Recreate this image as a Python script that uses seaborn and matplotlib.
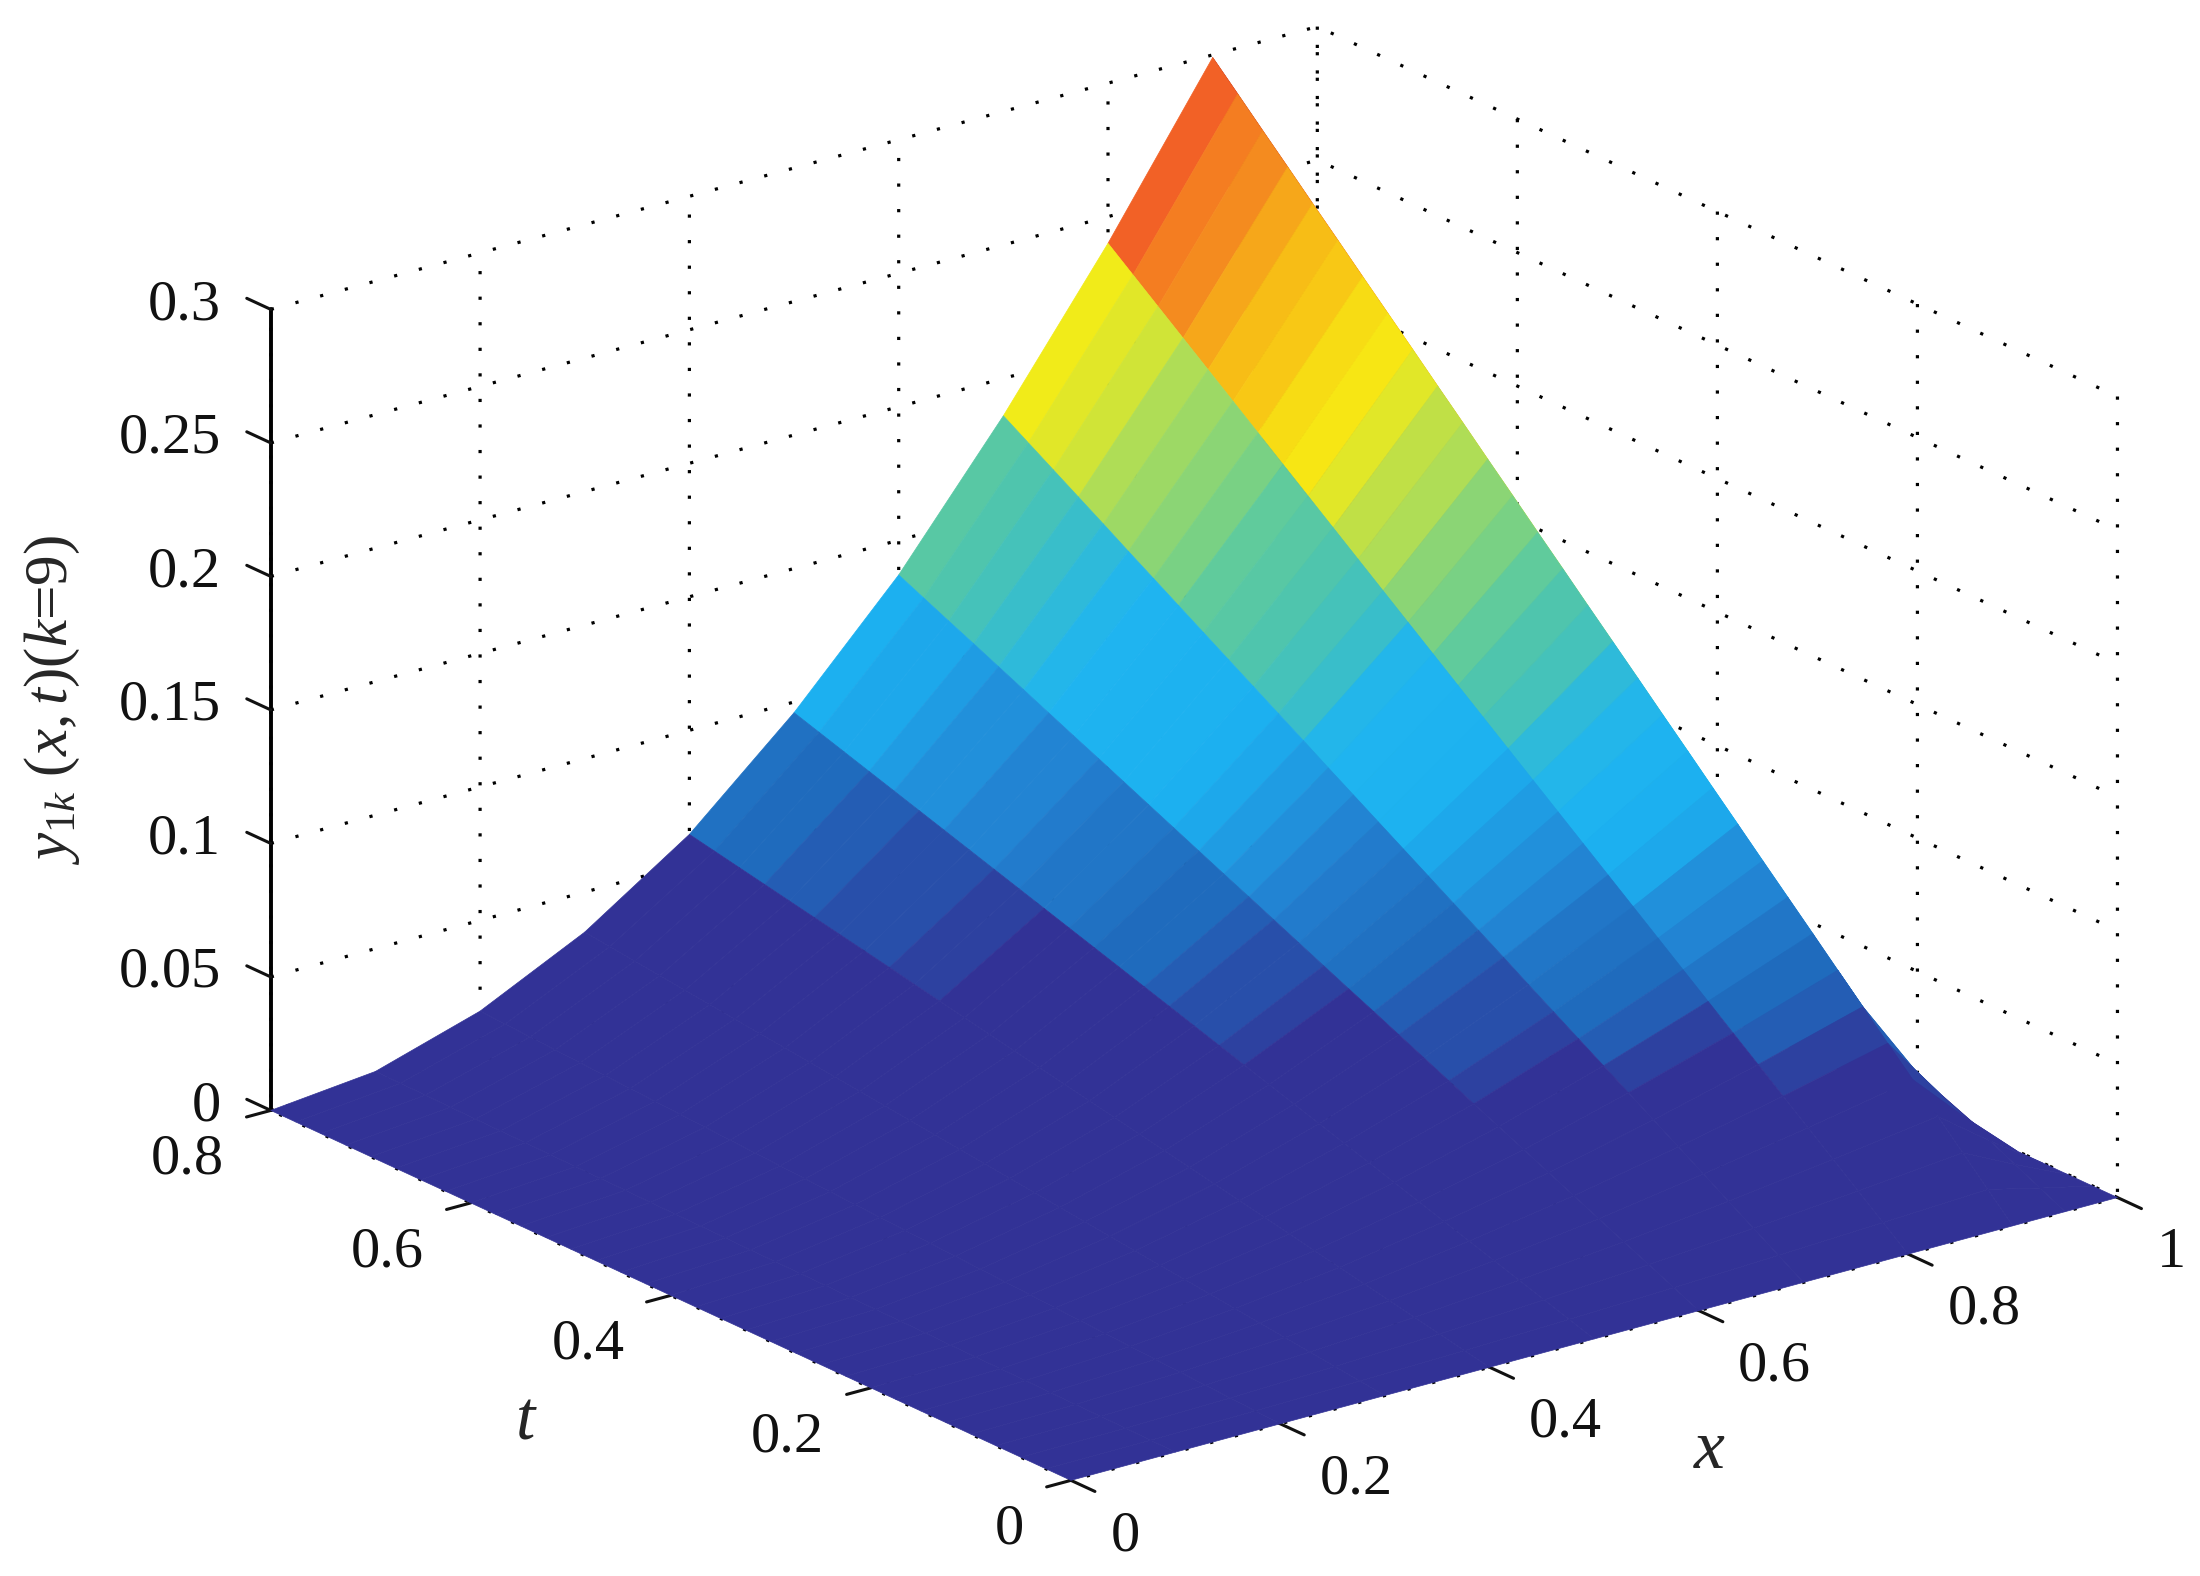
import matplotlib
matplotlib.use("Agg")
import matplotlib.pyplot as plt
from matplotlib.colors import ListedColormap, Normalize
from matplotlib.transforms import Affine2D
import numpy as np
import seaborn as sns

x_values = [0, 0.1, 0.2, 0.3, 0.4, 0.5, 0.6, 0.7, 0.8, 0.9, 0.95, 1.0]
t_values = [0, .025, .05, .075, .1, .125, .15, .175, .2, .225, .25, .275, .3, .325, .35, .375, .4,
            .425, .45, .475, .5, .525, .55, .575, .6, .625, .65, .675, .7, .725, .75, .775, .8]

# height of the surface along each constant-x crease, one value per t_values entry
z_x000 = [0] * 33
z_x010 = [0, .0001, .0003, .0004, .0005, .0006, .0008, .0009, .001, .0011, .0013, .0014, .0015, .0016, .0018, .0019, .002,
          .0021, .0023, .0024, .0025, .0026, .0028, .0029, .003, .0031, .0033, .0034, .0035, .0036, .0038, .0039, .004]
z_x020 = [0, .0005, .001, .0015, .002, .0025, .003, .0035, .004, .0045, .005, .0055, .006, .0065, .007, .0075, .008,
          .0085, .009, .0095, .01, .0105, .011, .0115, .012, .0125, .013, .0135, .014, .0145, .015, .0155, .016]
z_x030 = [0, .0011, .0022, .0033, .0044, .0055, .0066, .0077, .0088, .0098, .0109, .012, .0131, .0142, .0153, .0164, .0175,
          .0186, .0197, .0208, .0219, .023, .0241, .0252, .0263, .0273, .0284, .0295, .0306, .0317, .0328, .0339, .035]
z_x040 = [0, .0019, .0038, .0057, .0076, .0095, .0114, .0133, .0153, .0172, .0191, .021, .0229, .0248, .0267, .0286, .0305,
          .0324, .0343, .0362, .0381, .04, .0419, .0438, .0458, .0477, .0496, .0515, .0534, .0553, .0572, .0591, .061]
z_x050 = [0, .003, .006, .009, .012, .015, .018, .021, .024, .027, .03, .033, .036, .039, .042, .045, .048,
          .051, .054, .057, .06, .063, .066, .069, .072, .075, .078, .081, .084, .087, .09, .093, .096]
z_x060 = [0, .0043, .0086, .0128, .0171, .0214, .0257, .03, .0343, .0385, .0428, .0471, .0514, .0557, .0599, .0642, .0685,
          .0728, .0771, .0813, .0856, .0899, .0942, .0985, .1028, .107, .1113, .1156, .1199, .1242, .1284, .1327, .137]
z_x070 = [0, .0058, .0116, .0174, .0233, .0291, .0349, .0407, .0465, .0523, .0581, .0639, .0698, .0756, .0814, .0872, .093,
          .0988, .1046, .1104, .1163, .1221, .1279, .1337, .1395, .1453, .1511, .1569, .1628, .1686, .1744, .1802, .186]
z_x080 = [0, .0075, .015, .0225, .03, .0375, .045, .0525, .06, .0675, .075, .0825, .09, .0975, .105, .1125, .12,
          .1275, .135, .1425, .15, .1575, .165, .1725, .18, .1875, .195, .2025, .21, .2175, .225, .2325, .24]
z_x090 = [0, .0093, .0187, .028, .0374, .0467, .0561, .0654, .0748, .0841, .0934, .1028, .1121, .1215, .1308, .1402, .1495,
          .1588, .1682, .1775, .1869, .1962, .2056, .2149, .2243, .2336, .2429, .2523, .2616, .271, .2803, .2897, .299]
z_x095 = [0, .0045, .009, .0135, .018, .0225, .027, .0315, .036, .0405, .045, .0495, .054, .0585, .063, .0675, .072,
          .0765, .081, .0855, .09, .0945, .099, .1035, .108, .1125, .117, .1215, .126, .1305, .135, .1395, .144]
z_x100 = [0] * 33

x_ticks = [0, 0.2, 0.4, 0.6, 0.8, 1]
x_tick_labels = ["0", "0.2", "0.4", "0.6", "0.8", "1"]
t_ticks = [0, 0.2, 0.4, 0.6, 0.8]
t_tick_labels = ["0", "0.2", "0.4", "0.6", "0.8"]
z_ticks = [0, 0.05, 0.1, 0.15, 0.2, 0.25, 0.3]
z_tick_labels = ["0", "0.05", "0.1", "0.15", "0.2", "0.25", "0.3"]

color_anchors = ["#323296", "#323296", "#323296", "#1f6bbd", "#2380d0", "#1cb0f0", "#1fb5f0", "#4cc4b0", "#6ecf8e",
                 "#b5de50", "#f7ec14", "#f8c515", "#f5981d", "#f26026", "#ed1c24", "#c41414", "#9e1010"]

sns.set_theme(style="white")
plt.rcParams.update({
    "font.family": ["Liberation Serif", "DejaVu Serif"],
    "mathtext.fontset": "custom",
    "mathtext.rm": "Liberation Serif",
    "mathtext.it": "Liberation Serif:italic",
    "mathtext.bf": "Liberation Serif:bold",
    "grid.linestyle": (0, (1, 7)),
    "grid.linewidth": 1.15,
    "grid.color": "black",
    "axes.linewidth": 1.1,
    "text.color": "#111111",
    "xtick.color": "#111111",
    "ytick.color": "#111111",
})

X, T = np.meshgrid(x_values, t_values)
Z = np.column_stack([z_x000, z_x010, z_x020, z_x030, z_x040, z_x050, z_x060,
                     z_x070, z_x080, z_x090, z_x095, z_x100])

cmap = ListedColormap(sns.blend_palette(color_anchors, n_colors=64))
norm = Normalize(0, 0.3)
facecolors = cmap(norm(Z[1:, :-1]))

fig = plt.figure(figsize=(11, 7.88), dpi=200, facecolor="white")
ax = fig.add_axes([0.0331, 0.0084, 1.0, 1.0], projection="3d", proj_type="ortho")
ax.patch.set_alpha(0)
ax.view_init(elev=20.7, azim=-127.4)
ax.set_box_aspect((1, 1, 0.65), zoom=1.263)

surf = ax.plot_surface(X, T, Z, facecolors=facecolors, rstride=1, cstride=1, shade=False,
                       linewidth=0.25, antialiased=True)
surf.set_clip_on(False)

ax.set_xlim(0, 1, view_margin=0)
ax.set_ylim(0, 0.8, view_margin=0)
ax.set_zlim(0, 0.3, view_margin=0)
ax.set_xticks(x_ticks, x_tick_labels)
ax.set_yticks(t_ticks, t_tick_labels)
ax.set_zticks(z_ticks, z_tick_labels)
ax.tick_params(labelsize=21)
ax.tick_params(axis="x", pad=1)
ax.tick_params(axis="y", pad=6)
ax.tick_params(axis="z", pad=0)


def shift_on_draw(artist, dx, dy):
    """Offset a text by (dx, dy) pixels; mplot3d resets text transforms while drawing."""
    original = artist.draw

    def draw(renderer):
        artist._transform = ax.transData + Affine2D().translate(dx, dy)
        return original(renderer)

    artist.draw = draw


for lab in ax.get_xticklabels():
    lab.set_ha("left")
    shift_on_draw(lab, 15, 6)
for lab in ax.get_yticklabels():
    lab.set_ha("right")
    lab.set_va("bottom")
    shift_on_draw(lab, 3, -24)
for lab in ax.get_zticklabels():
    lab.set_ha("right")
    lab.set_va("bottom")
    shift_on_draw(lab, 0, -24)

for axis in (ax.xaxis, ax.yaxis, ax.zaxis):
    axis.set_pane_color((1, 1, 1, 0))
    axis.pane.set_edgecolor("none")
    axis._axinfo["tick"]["color"] = "black"
    axis._axinfo["tick"]["linewidth"] = {True: 1.1, False: 0.5}

ax.xaxis.line.set_color((0, 0, 0, 0))
ax.yaxis.line.set_color((0, 0, 0, 0))
ax.zaxis.line.set_color("black")
ax.zaxis.line.set_linewidth(1.4)

# ticks stick out of the box: along -t on x, along -x on t, along +t on z
ax.xaxis._axinfo["tick"].update(inward_factor=0.375, outward_factor=0.0)
ax.yaxis._axinfo["tick"].update(inward_factor=0.29, outward_factor=0.0)
ax.zaxis._axinfo["tick"].update(inward_factor=0.0, outward_factor=0.375)
ax.zaxis._get_tickdir = lambda position: 1

ax.zaxis.set_rotate_label(False)
ax.set_xlabel("$x$", fontsize=25, labelpad=10)
ax.set_ylabel("$t$", fontsize=25, labelpad=10)
ax.set_zlabel("$y_{1k}\\ (x,t)(k$=9$)$", fontsize=22, rotation=90, labelpad=14)
shift_on_draw(ax.xaxis.label, 31, 11)
shift_on_draw(ax.yaxis.label, -35, -13)

fig.savefig("out.png", dpi=200, facecolor="white")
